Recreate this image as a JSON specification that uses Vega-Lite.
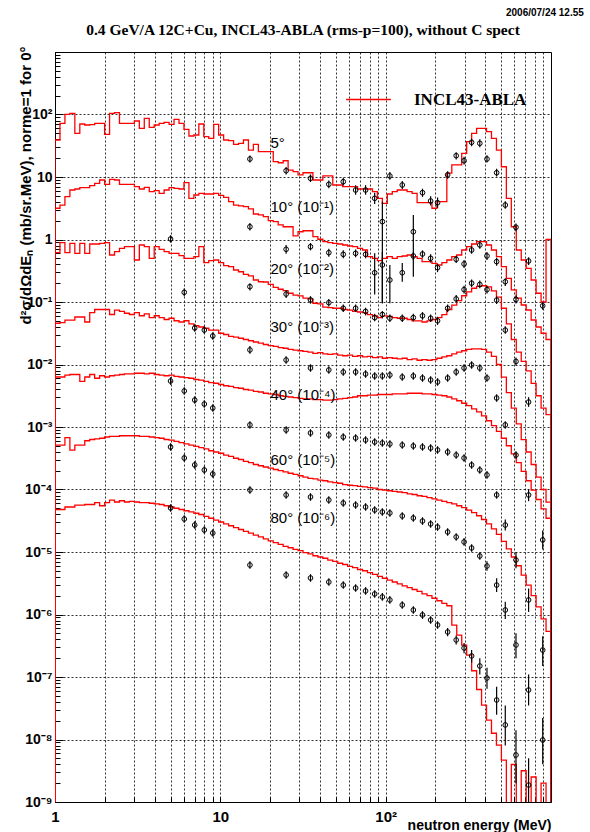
{
"$schema":"https://vega.github.io/schema/vega-lite/v6.json",
"width":496,"height":750,
"autosize":{"type":"none"},
"padding":{"left":55,"top":52,"right":39,"bottom":30},
"background":"white",
"config":{"view":{"stroke":"#000","strokeWidth":1},"font":"Liberation Sans","axis":{"domainColor":"#000","tickColor":"#000","labelColor":"#000","titleColor":"#000"}},
"title":{"text":"0.4 GeV/A 12C+Cu, INCL43-ABLA (rms-p=100), without C spect","font":"Liberation Serif","fontSize":15.5,"fontWeight":"bold","anchor":"middle","offset":-30,"color":"#000"},
"resolve":{"axis":{"y":"independent"}},
"datasets":{
"curves":[
{"i":0,"e":1,"a5":1e-12,"a10":1e-12,"a20":1e-12,"a30":1e-12,"a40":1e-12,"a60":1e-12,"a80":1e-12},
{"i":1,"e":1,"a5":39.1,"a10":3.16,"a20":0.615,"a30":0.0457,"a40":6.31e-3,"a60":5.13e-4,"a80":4.79e-5},
{"i":2,"e":1.0715,"a5":72.3,"a10":3.56,"a20":0.889,"a30":0.0468,"a40":6.31e-3,"a60":5.13e-4,"a80":4.79e-5},
{"i":3,"e":1.1482,"a5":100.7,"a10":4.84,"a20":0.615,"a30":0.0513,"a40":6.76e-3,"a60":6.76e-4,"a80":5.25e-5},
{"i":4,"e":1.2303,"a5":104.5,"a10":6.19,"a20":0.869,"a30":0.0513,"a40":6.92e-3,"a60":4.27e-4,"a80":5.25e-5},
{"i":5,"e":1.3183,"a5":50.0,"a10":6.43,"a20":0.601,"a30":0.0575,"a40":6.92e-3,"a60":5.13e-4,"a80":5.62e-5},
{"i":6,"e":1.4125,"a5":70.5,"a10":6.75,"a20":0.869,"a30":0.0575,"a40":5.37e-3,"a60":5.13e-4,"a80":5.62e-5},
{"i":7,"e":1.5136,"a5":67.9,"a10":6.75,"a20":0.601,"a30":0.0479,"a40":6.31e-3,"a60":6.03e-4,"a80":5.75e-5},
{"i":8,"e":1.6218,"a5":68.9,"a10":7.26,"a20":0.847,"a30":0.0676,"a40":6.92e-3,"a60":6.31e-4,"a80":5.75e-5},
{"i":9,"e":1.7378,"a5":72.3,"a10":7.93,"a20":0.847,"a30":0.0759,"a40":6.03e-3,"a60":6.46e-4,"a80":6.17e-5},
{"i":10,"e":1.8621,"a5":72.3,"a10":8.95,"a20":0.869,"a30":0.0759,"a40":6.61e-3,"a60":6.61e-4,"a80":5.5e-5},
{"i":11,"e":1.9953,"a5":48.2,"a10":7.64,"a20":0.889,"a30":0.0759,"a40":6.31e-3,"a60":6.92e-4,"a80":6.17e-5},
{"i":12,"e":2.138,"a5":104.5,"a10":9.18,"a20":0.565,"a30":0.0631,"a40":6.61e-3,"a60":7.08e-4,"a80":6.76e-5},
{"i":13,"e":2.2909,"a5":107.2,"a10":8.95,"a20":0.638,"a30":0.0741,"a40":6.76e-3,"a60":7.08e-4,"a80":6.31e-5},
{"i":14,"e":2.4547,"a5":72.3,"a10":7.64,"a20":0.723,"a30":0.0708,"a40":6.92e-3,"a60":7.24e-4,"a80":6.61e-5},
{"i":15,"e":2.6303,"a5":72.3,"a10":7.64,"a20":0.767,"a30":0.0661,"a40":7.08e-3,"a60":7.24e-4,"a80":6.31e-5},
{"i":16,"e":2.8184,"a5":72.3,"a10":7.64,"a20":0.767,"a30":0.0631,"a40":7.08e-3,"a60":7.24e-4,"a80":6.46e-5},
{"i":17,"e":3.02,"a5":78.7,"a10":7.0,"a20":0.47,"a30":0.0676,"a40":7.24e-3,"a60":7.24e-4,"a80":6.31e-5},
{"i":18,"e":3.2359,"a5":60.1,"a10":6.43,"a20":0.817,"a30":0.0603,"a40":7.24e-3,"a60":7.08e-4,"a80":6.17e-5},
{"i":19,"e":3.4674,"a5":86.9,"a10":6.84,"a20":0.767,"a30":0.0646,"a40":7.08e-3,"a60":7.08e-4,"a80":6.17e-5},
{"i":20,"e":3.7154,"a5":62.4,"a10":5.82,"a20":0.5,"a30":0.0562,"a40":7.24e-3,"a60":6.92e-4,"a80":6.03e-5},
{"i":21,"e":3.9811,"a5":67.9,"a10":6.04,"a20":0.767,"a30":0.0603,"a40":6.92e-3,"a60":6.76e-4,"a80":5.89e-5},
{"i":22,"e":4.2658,"a5":72.3,"a10":5.48,"a20":0.697,"a30":0.0562,"a40":6.76e-3,"a60":6.61e-4,"a80":5.75e-5},
{"i":23,"e":4.5709,"a5":75.0,"a10":6.19,"a20":0.638,"a30":0.0525,"a40":6.61e-3,"a60":6.31e-4,"a80":5.5e-5},
{"i":24,"e":4.8978,"a5":69.7,"a10":6.75,"a20":0.601,"a30":0.055,"a40":6.76e-3,"a60":6.17e-4,"a80":5.25e-5},
{"i":25,"e":5.2481,"a5":83.8,"a10":6.59,"a20":0.601,"a30":0.0501,"a40":6.46e-3,"a60":5.89e-4,"a80":5.01e-5},
{"i":26,"e":5.6234,"a5":72.3,"a10":6.43,"a20":0.551,"a30":0.0479,"a40":6.31e-3,"a60":5.62e-4,"a80":4.79e-5},
{"i":27,"e":6.0256,"a5":57.9,"a10":8.11,"a20":0.5,"a30":0.0501,"a40":6.17e-3,"a60":5.37e-4,"a80":4.57e-5},
{"i":28,"e":6.4565,"a5":45.3,"a10":4.56,"a20":0.5,"a30":0.0447,"a40":6.03e-3,"a60":5.13e-4,"a80":4.37e-5},
{"i":29,"e":6.9183,"a5":47.0,"a10":5.15,"a20":0.531,"a30":0.0417,"a40":5.75e-3,"a60":4.9e-4,"a80":4.17e-5},
{"i":30,"e":7.4131,"a5":70.5,"a10":5.48,"a20":0.767,"a30":0.0398,"a40":5.62e-3,"a60":4.68e-4,"a80":3.98e-5},
{"i":31,"e":7.9433,"a5":44.2,"a10":5.35,"a20":0.426,"a30":0.038,"a40":5.37e-3,"a60":4.47e-4,"a80":3.72e-5},
{"i":32,"e":8.5114,"a5":41.6,"a10":5.35,"a20":0.458,"a30":0.0355,"a40":5.13e-3,"a60":4.17e-4,"a80":3.47e-5},
{"i":33,"e":9.1201,"a5":69.7,"a10":5.48,"a20":0.47,"a30":0.0355,"a40":5.01e-3,"a60":3.98e-4,"a80":3.24e-5},
{"i":34,"e":9.7724,"a5":47.0,"a10":5.09,"a20":0.426,"a30":0.0316,"a40":4.79e-3,"a60":3.8e-4,"a80":3.02e-5},
{"i":35,"e":10.471,"a5":39.1,"a10":4.73,"a20":0.381,"a30":0.0302,"a40":4.57e-3,"a60":3.55e-4,"a80":2.82e-5},
{"i":36,"e":11.22,"a5":38.1,"a10":4.03,"a20":0.367,"a30":0.0282,"a40":4.47e-3,"a60":3.39e-4,"a80":2.63e-5},
{"i":37,"e":12.023,"a5":33.3,"a10":3.56,"a20":0.325,"a30":0.0275,"a40":4.27e-3,"a60":3.16e-4,"a80":2.45e-5},
{"i":38,"e":12.882,"a5":34.6,"a10":3.44,"a20":0.305,"a30":0.0263,"a40":4.17e-3,"a60":3.02e-4,"a80":2.29e-5},
{"i":39,"e":13.804,"a5":39.1,"a10":3.35,"a20":0.277,"a30":0.0251,"a40":3.98e-3,"a60":2.82e-4,"a80":2.14e-5},
{"i":40,"e":14.791,"a5":27.0,"a10":3.08,"a20":0.261,"a30":0.024,"a40":3.89e-3,"a60":2.69e-4,"a80":2.0e-5},
{"i":41,"e":15.849,"a5":33.3,"a10":2.56,"a20":0.225,"a30":0.0229,"a40":3.72e-3,"a60":2.51e-4,"a80":1.86e-5},
{"i":42,"e":16.982,"a5":25.4,"a10":2.47,"a20":0.211,"a30":0.0219,"a40":3.63e-3,"a60":2.4e-4,"a80":1.74e-5},
{"i":43,"e":18.197,"a5":25.4,"a10":2.32,"a20":0.209,"a30":0.0209,"a40":3.47e-3,"a60":2.29e-4,"a80":1.62e-5},
{"i":44,"e":19.498,"a5":25.4,"a10":2.0,"a20":0.192,"a30":0.02,"a40":3.39e-3,"a60":2.19e-4,"a80":1.51e-5},
{"i":45,"e":20.893,"a5":17.6,"a10":1.93,"a20":0.172,"a30":0.0195,"a40":3.31e-3,"a60":2.09e-4,"a80":1.41e-5},
{"i":46,"e":22.387,"a5":16.9,"a10":1.71,"a20":0.16,"a30":0.0186,"a40":3.16e-3,"a60":2.0e-4,"a80":1.32e-5},
{"i":47,"e":23.988,"a5":18.2,"a10":1.6,"a20":0.152,"a30":0.0182,"a40":3.09e-3,"a60":1.91e-4,"a80":1.23e-5},
{"i":48,"e":25.704,"a5":12.9,"a10":1.6,"a20":0.138,"a30":0.0174,"a40":3.02e-3,"a60":1.82e-4,"a80":1.17e-5},
{"i":49,"e":27.542,"a5":12.2,"a10":1.14,"a20":0.129,"a30":0.017,"a40":2.95e-3,"a60":1.74e-4,"a80":1.1e-5},
{"i":50,"e":29.512,"a5":10.8,"a10":1.33,"a20":0.125,"a30":0.0166,"a40":2.88e-3,"a60":1.66e-4,"a80":1.05e-5},
{"i":51,"e":31.623,"a5":11.7,"a10":1.38,"a20":0.115,"a30":0.0162,"a40":2.82e-3,"a60":1.58e-4,"a80":9.77e-6},
{"i":52,"e":33.884,"a5":11.7,"a10":1.38,"a20":0.112,"a30":0.0158,"a40":2.82e-3,"a60":1.51e-4,"a80":9.33e-6},
{"i":53,"e":36.308,"a5":8.95,"a10":1.11,"a20":0.0955,"a30":0.0151,"a40":2.75e-3,"a60":1.48e-4,"a80":8.71e-6},
{"i":54,"e":38.905,"a5":8.95,"a10":1.01,"a20":0.0933,"a30":0.0155,"a40":2.75e-3,"a60":1.41e-4,"a80":8.32e-6},
{"i":55,"e":41.687,"a5":10.4,"a10":0.923,"a20":0.083,"a30":0.0148,"a40":2.69e-3,"a60":1.38e-4,"a80":7.94e-6},
{"i":56,"e":44.668,"a5":10.4,"a10":0.889,"a20":0.0813,"a30":0.0145,"a40":2.69e-3,"a60":1.32e-4,"a80":7.41e-6},
{"i":57,"e":47.863,"a5":7.45,"a10":0.869,"a20":0.0794,"a30":0.0148,"a40":2.75e-3,"a60":1.29e-4,"a80":7.08e-6},
{"i":58,"e":51.286,"a5":7.45,"a10":0.847,"a20":0.0794,"a30":0.0141,"a40":2.82e-3,"a60":1.26e-4,"a80":6.61e-6},
{"i":59,"e":54.954,"a5":7.0,"a10":0.817,"a20":0.0759,"a30":0.0138,"a40":2.88e-3,"a60":1.2e-4,"a80":6.31e-6},
{"i":60,"e":58.884,"a5":7.0,"a10":0.787,"a20":0.0741,"a30":0.0141,"a40":2.95e-3,"a60":1.17e-4,"a80":5.89e-6},
{"i":61,"e":63.096,"a5":7.0,"a10":0.767,"a20":0.0708,"a30":0.0135,"a40":3.02e-3,"a60":1.15e-4,"a80":5.62e-6},
{"i":62,"e":67.608,"a5":6.43,"a10":0.723,"a20":0.0692,"a30":0.0138,"a40":3.16e-3,"a60":1.12e-4,"a80":5.25e-6},
{"i":63,"e":72.444,"a5":6.43,"a10":0.679,"a20":0.0676,"a30":0.0132,"a40":3.16e-3,"a60":1.1e-4,"a80":5.01e-6},
{"i":64,"e":77.625,"a5":6.43,"a10":0.531,"a20":0.063,"a30":0.0135,"a40":3.24e-3,"a60":1.07e-4,"a80":4.68e-6},
{"i":65,"e":83.176,"a5":5.82,"a10":0.5,"a20":0.06,"a30":0.0129,"a40":3.24e-3,"a60":1.05e-4,"a80":4.37e-6},
{"i":66,"e":89.125,"a5":4.56,"a10":0.458,"a20":0.0562,"a30":0.0132,"a40":3.31e-3,"a60":1.0e-4,"a80":4.07e-6},
{"i":67,"e":95.499,"a5":3.79,"a10":0.5,"a20":0.06,"a30":0.0126,"a40":3.31e-3,"a60":9.77e-5,"a80":3.8e-6},
{"i":68,"e":102.33,"a5":5.35,"a10":0.531,"a20":0.0589,"a30":0.0129,"a40":3.31e-3,"a60":9.55e-5,"a80":3.55e-6},
{"i":69,"e":109.65,"a5":5.82,"a10":0.5,"a20":0.0562,"a30":0.0126,"a40":3.39e-3,"a60":9.33e-5,"a80":3.31e-6},
{"i":70,"e":117.49,"a5":6.19,"a10":0.531,"a20":0.055,"a30":0.0123,"a40":3.39e-3,"a60":9.12e-5,"a80":3.09e-6},
{"i":71,"e":125.89,"a5":6.19,"a10":0.545,"a20":0.055,"a30":0.0126,"a40":3.39e-3,"a60":8.91e-5,"a80":2.88e-6},
{"i":72,"e":134.9,"a5":5.82,"a10":0.565,"a20":0.0525,"a30":0.012,"a40":3.47e-3,"a60":8.51e-5,"a80":2.69e-6},
{"i":73,"e":144.54,"a5":5.48,"a10":0.531,"a20":0.05,"a30":0.0123,"a40":3.47e-3,"a60":8.32e-5,"a80":2.51e-6},
{"i":74,"e":154.88,"a5":3.88,"a10":0.5,"a20":0.05,"a30":0.0117,"a40":3.47e-3,"a60":7.94e-5,"a80":2.34e-6},
{"i":75,"e":165.96,"a5":3.88,"a10":0.442,"a20":0.0479,"a30":0.012,"a40":3.39e-3,"a60":7.76e-5,"a80":2.14e-6},
{"i":76,"e":177.83,"a5":3.88,"a10":0.442,"a20":0.05,"a30":0.0117,"a40":3.39e-3,"a60":7.41e-5,"a80":2.0e-6},
{"i":77,"e":190.55,"a5":3.16,"a10":0.416,"a20":0.0525,"a30":0.012,"a40":3.31e-3,"a60":7.08e-5,"a80":1.82e-6},
{"i":78,"e":204.17,"a5":4.03,"a10":0.391,"a20":0.0562,"a30":0.0126,"a40":3.24e-3,"a60":6.76e-5,"a80":1.66e-6},
{"i":79,"e":218.78,"a5":4.03,"a10":0.426,"a20":0.063,"a30":0.0132,"a40":3.16e-3,"a60":6.46e-5,"a80":1.51e-6},
{"i":80,"e":234.42,"a5":11.5,"a10":0.47,"a20":0.0759,"a30":0.0138,"a40":3.02e-3,"a60":6.17e-5,"a80":1.38e-6},
{"i":81,"e":251.19,"a5":15.6,"a10":0.531,"a20":0.089,"a30":0.0148,"a40":2.82e-3,"a60":5.89e-5,"a80":6.76e-7},
{"i":82,"e":269.15,"a5":15.6,"a10":0.565,"a20":0.105,"a30":0.0158,"a40":2.63e-3,"a60":5.5e-5,"a80":4.68e-7},
{"i":83,"e":288.4,"a5":23.9,"a10":0.679,"a20":0.126,"a30":0.0166,"a40":2.4e-3,"a60":5.13e-5,"a80":3.24e-7},
{"i":84,"e":309.03,"a5":36.7,"a10":0.767,"a20":0.145,"a30":0.0174,"a40":2.19e-3,"a60":4.68e-5,"a80":2.24e-7},
{"i":85,"e":331.13,"a5":50.0,"a10":0.847,"a20":0.166,"a30":0.0178,"a40":1.95e-3,"a60":4.27e-5,"a80":1.26e-7},
{"i":86,"e":354.81,"a5":60.1,"a10":0.923,"a20":0.178,"a30":0.0178,"a40":1.74e-3,"a60":3.8e-5,"a80":6.31e-8},
{"i":87,"e":380.19,"a5":60.1,"a10":0.923,"a20":0.182,"a30":0.0174,"a40":1.51e-3,"a60":3.31e-5,"a80":3.55e-8},
{"i":88,"e":407.38,"a5":53.1,"a10":0.817,"a20":0.174,"a30":0.0158,"a40":1.26e-3,"a60":2.82e-5,"a80":2.04e-8},
{"i":89,"e":436.52,"a5":41.6,"a10":0.679,"a20":0.151,"a30":0.0135,"a40":1.05e-3,"a60":2.34e-5,"a80":1.26e-8},
{"i":90,"e":467.74,"a5":27.0,"a10":0.531,"a20":0.12,"a30":0.01,"a40":8.51e-4,"a60":1.91e-5,"a80":8.13e-9},
{"i":91,"e":501.19,"a5":14.6,"a10":0.367,"a20":0.0794,"a30":0.0063,"a40":6.61e-4,"a60":1.48e-5,"a80":4.68e-9},
{"i":92,"e":537.03,"a5":4.56,"a10":0.239,"a20":0.0447,"a30":0.00355,"a40":5.01e-4,"a60":1.12e-5,"a80":1e-12},
{"i":93,"e":575.44,"a5":1.6,"a10":0.156,"a20":0.0251,"a30":0.002,"a40":3.72e-4,"a60":8.32e-6,"a80":3.98e-9},
{"i":94,"e":616.6,"a5":0.679,"a10":0.115,"a20":0.0158,"a30":0.00112,"a40":2.69e-4,"a60":6.03e-6,"a80":1e-12},
{"i":95,"e":660.69,"a5":0.47,"a10":0.0895,"a20":0.0112,"a30":0.00063,"a40":1.95e-4,"a60":4.27e-6,"a80":3.16e-9},
{"i":96,"e":707.95,"a5":0.346,"a10":0.0745,"a20":0.0079,"a30":0.000398,"a40":1.38e-4,"a60":2.95e-6,"a80":1e-12},
{"i":97,"e":758.58,"a5":0.225,"a10":0.0515,"a20":0.005,"a30":0.000251,"a40":9.77e-5,"a60":2.0e-6,"a80":2.51e-9},
{"i":98,"e":812.83,"a5":0.138,"a10":0.0398,"a20":0.00316,"a30":0.000158,"a40":6.92e-5,"a60":1.32e-6,"a80":1e-12},
{"i":99,"e":870.96,"a5":0.1,"a10":0.0316,"a20":0.002,"a30":0.0001,"a40":4.9e-5,"a60":8.51e-7,"a80":2.0e-9},
{"i":100,"e":933.25,"a5":1.0,"a10":0.0251,"a20":0.00158,"a30":0.000063,"a40":3.47e-5,"a60":5.37e-7,"a80":1e-12},
{"i":101,"e":1000,"a5":1e-12,"a10":1e-12,"a20":1e-12,"a30":1e-12,"a40":1e-12,"a60":1e-12,"a80":1e-12}
],
"pts":[
{"a":"5","e":15.1,"v":19.4,"lo":17.0,"hi":22.0},
{"a":"5","e":25,"v":12.6,"lo":11.0,"hi":14.5},
{"a":"5","e":35.1,"v":9.53,"lo":8.3,"hi":11.0},
{"a":"5","e":45.3,"v":7.64,"lo":6.6,"hi":8.8},
{"a":"5","e":55.4,"v":8.41,"lo":7.3,"hi":9.7},
{"a":"5","e":65.8,"v":6.19,"lo":5.2,"hi":7.4},
{"a":"5","e":75.6,"v":6.19,"lo":5.2,"hi":7.4},
{"a":"5","e":85.8,"v":4.56,"lo":3.7,"hi":5.6},
{"a":"5","e":95.5,"v":1.93,"lo":0.0955,"hi":4.03},
{"a":"5","e":106,"v":10.4,"lo":9.0,"hi":12.0},
{"a":"5","e":126,"v":7.45,"lo":6.4,"hi":8.6},
{"a":"5","e":147,"v":1.33,"lo":0.254,"hi":2.47},
{"a":"5","e":167,"v":5.61,"lo":4.8,"hi":6.5},
{"a":"5","e":187,"v":4.13,"lo":3.5,"hi":4.9},
{"a":"5","e":206,"v":3.88,"lo":3.2,"hi":4.7},
{"a":"5","e":237,"v":10.8,"lo":9.4,"hi":12.4},
{"a":"5","e":267,"v":21.9,"lo":19.0,"hi":25.0},
{"a":"5","e":298,"v":18.2,"lo":15.8,"hi":21.0},
{"a":"5","e":331,"v":35.9,"lo":31.0,"hi":41.0},
{"a":"5","e":371,"v":34.6,"lo":30.0,"hi":40.0},
{"a":"5","e":410,"v":19.4,"lo":17.0,"hi":22.3},
{"a":"5","e":469,"v":11.7,"lo":10.2,"hi":13.5},
{"a":"5","e":529,"v":3.56,"lo":3.1,"hi":4.1},
{"a":"5","e":614,"v":1.57,"lo":1.36,"hi":1.8},
{"a":"5","e":732,"v":0.453,"lo":0.39,"hi":0.52},
{"a":"5","e":891,"v":0.087,"lo":0.075,"hi":0.1},
{"a":"10","e":5.0,"v":1.02,"lo":0.89,"hi":1.17},
{"a":"10","e":15.1,"v":1.6,"lo":1.39,"hi":1.84},
{"a":"10","e":25,"v":0.697,"lo":0.59,"hi":0.82},
{"a":"10","e":35.1,"v":0.767,"lo":0.67,"hi":0.88},
{"a":"10","e":45.3,"v":0.615,"lo":0.53,"hi":0.71},
{"a":"10","e":55.4,"v":0.579,"lo":0.5,"hi":0.67},
{"a":"10","e":65.8,"v":0.601,"lo":0.52,"hi":0.69},
{"a":"10","e":75.6,"v":0.579,"lo":0.5,"hi":0.67},
{"a":"10","e":85.8,"v":0.294,"lo":0.132,"hi":0.6},
{"a":"10","e":95.5,"v":0.391,"lo":0.0955,"hi":0.63},
{"a":"10","e":106,"v":0.225,"lo":0.0955,"hi":0.39},
{"a":"10","e":126,"v":0.294,"lo":0.21,"hi":0.42},
{"a":"10","e":147,"v":0.545,"lo":0.47,"hi":0.63},
{"a":"10","e":167,"v":0.586,"lo":0.51,"hi":0.67},
{"a":"10","e":187,"v":0.5,"lo":0.43,"hi":0.58},
{"a":"10","e":206,"v":0.354,"lo":0.3,"hi":0.41},
{"a":"10","e":267,"v":0.482,"lo":0.42,"hi":0.55},
{"a":"10","e":298,"v":0.406,"lo":0.35,"hi":0.47},
{"a":"10","e":331,"v":0.679,"lo":0.59,"hi":0.78},
{"a":"10","e":371,"v":0.817,"lo":0.71,"hi":0.94},
{"a":"10","e":410,"v":0.545,"lo":0.47,"hi":0.63},
{"a":"10","e":469,"v":0.442,"lo":0.38,"hi":0.51},
{"a":"10","e":529,"v":0.211,"lo":0.18,"hi":0.24},
{"a":"10","e":614,"v":0.11,"lo":0.095,"hi":0.127},
{"a":"20","e":6.05,"v":0.143,"lo":0.124,"hi":0.165},
{"a":"20","e":15.1,"v":0.176,"lo":0.153,"hi":0.2},
{"a":"20","e":25,"v":0.134,"lo":0.116,"hi":0.155},
{"a":"20","e":35.1,"v":0.108,"lo":0.094,"hi":0.124},
{"a":"20","e":45.3,"v":0.0975,"lo":0.085,"hi":0.112},
{"a":"20","e":55.4,"v":0.0794,"lo":0.069,"hi":0.091},
{"a":"20","e":65.8,"v":0.0794,"lo":0.069,"hi":0.091},
{"a":"20","e":75.6,"v":0.0708,"lo":0.061,"hi":0.081},
{"a":"20","e":85.8,"v":0.0562,"lo":0.049,"hi":0.065},
{"a":"20","e":95.5,"v":0.063,"lo":0.055,"hi":0.072},
{"a":"20","e":106,"v":0.055,"lo":0.048,"hi":0.063},
{"a":"20","e":126,"v":0.055,"lo":0.048,"hi":0.063},
{"a":"20","e":147,"v":0.0562,"lo":0.049,"hi":0.065},
{"a":"20","e":167,"v":0.06,"lo":0.052,"hi":0.069},
{"a":"20","e":187,"v":0.055,"lo":0.048,"hi":0.063},
{"a":"20","e":206,"v":0.05,"lo":0.043,"hi":0.058},
{"a":"20","e":237,"v":0.0794,"lo":0.069,"hi":0.091},
{"a":"20","e":267,"v":0.112,"lo":0.097,"hi":0.129},
{"a":"20","e":298,"v":0.158,"lo":0.137,"hi":0.182},
{"a":"20","e":331,"v":0.2,"lo":0.174,"hi":0.23},
{"a":"20","e":371,"v":0.191,"lo":0.166,"hi":0.22},
{"a":"20","e":410,"v":0.158,"lo":0.137,"hi":0.182},
{"a":"20","e":469,"v":0.107,"lo":0.093,"hi":0.123},
{"a":"20","e":529,"v":0.0355,"lo":0.031,"hi":0.041},
{"a":"20","e":614,"v":0.0112,"lo":0.0097,"hi":0.0129},
{"a":"20","e":732,"v":0.00251,"lo":0.0021,"hi":0.003},
{"a":"30","e":7,"v":0.0384,"lo":0.0334,"hi":0.0442},
{"a":"30","e":8,"v":0.0356,"lo":0.031,"hi":0.041},
{"a":"30","e":9,"v":0.0286,"lo":0.0249,"hi":0.0329},
{"a":"30","e":15.1,"v":0.0171,"lo":0.0149,"hi":0.0197},
{"a":"30","e":25,"v":0.0118,"lo":0.0103,"hi":0.0136},
{"a":"30","e":35.1,"v":0.00879,"lo":0.00765,"hi":0.0101},
{"a":"30","e":45.3,"v":0.00817,"lo":0.00711,"hi":0.0094},
{"a":"30","e":55.4,"v":0.00759,"lo":0.0066,"hi":0.00873},
{"a":"30","e":65.8,"v":0.00759,"lo":0.0066,"hi":0.00873},
{"a":"30","e":75.6,"v":0.00705,"lo":0.00613,"hi":0.00811},
{"a":"30","e":85.8,"v":0.00655,"lo":0.0057,"hi":0.00753},
{"a":"30","e":95.5,"v":0.00655,"lo":0.0057,"hi":0.00753},
{"a":"30","e":106,"v":0.00679,"lo":0.00591,"hi":0.00781},
{"a":"30","e":126,"v":0.00631,"lo":0.00549,"hi":0.00726},
{"a":"30","e":147,"v":0.00655,"lo":0.0057,"hi":0.00753},
{"a":"30","e":167,"v":0.00608,"lo":0.00529,"hi":0.00699},
{"a":"30","e":187,"v":0.00565,"lo":0.00492,"hi":0.0065},
{"a":"30","e":206,"v":0.00525,"lo":0.00457,"hi":0.00604},
{"a":"30","e":237,"v":0.00608,"lo":0.00529,"hi":0.00699},
{"a":"30","e":267,"v":0.00759,"lo":0.0066,"hi":0.00873},
{"a":"30","e":298,"v":0.00879,"lo":0.00765,"hi":0.0101},
{"a":"30","e":331,"v":0.00982,"lo":0.00854,"hi":0.0113},
{"a":"30","e":371,"v":0.00879,"lo":0.00765,"hi":0.0101},
{"a":"30","e":410,"v":0.00608,"lo":0.00529,"hi":0.00699},
{"a":"30","e":469,"v":0.00291,"lo":0.00253,"hi":0.00335},
{"a":"30","e":529,"v":0.00108,"lo":0.00094,"hi":0.00124},
{"a":"30","e":614,"v":0.000356,"lo":0.00031,"hi":0.00041},
{"a":"30","e":732,"v":0.0000817,"lo":0.000065,"hi":0.0001},
{"a":"30","e":891,"v":0.0000156,"lo":0.000011,"hi":0.000022},
{"a":"40","e":5,"v":5.44e-3,"lo":4.73e-3,"hi":6.26e-3},
{"a":"40","e":6.05,"v":3.77e-3,"lo":3.28e-3,"hi":4.34e-3},
{"a":"40","e":7,"v":2.7e-3,"lo":2.35e-3,"hi":3.1e-3},
{"a":"40","e":8,"v":2.33e-3,"lo":2.03e-3,"hi":2.68e-3},
{"a":"40","e":9,"v":2.01e-3,"lo":1.75e-3,"hi":2.31e-3},
{"a":"40","e":15.1,"v":1.08e-3,"lo":9.4e-4,"hi":1.24e-3},
{"a":"40","e":25,"v":8.95e-4,"lo":7.8e-4,"hi":1.03e-3},
{"a":"40","e":35.1,"v":8.02e-4,"lo":6.98e-4,"hi":9.22e-4},
{"a":"40","e":45.3,"v":7.45e-4,"lo":6.48e-4,"hi":8.57e-4},
{"a":"40","e":55.4,"v":6.92e-4,"lo":6.02e-4,"hi":7.96e-4},
{"a":"40","e":65.8,"v":6.67e-4,"lo":5.8e-4,"hi":7.67e-4},
{"a":"40","e":75.6,"v":6.19e-4,"lo":5.39e-4,"hi":7.12e-4},
{"a":"40","e":85.8,"v":5.75e-4,"lo":5.0e-4,"hi":6.61e-4},
{"a":"40","e":95.5,"v":5.55e-4,"lo":4.83e-4,"hi":6.38e-4},
{"a":"40","e":106,"v":5.35e-4,"lo":4.65e-4,"hi":6.15e-4},
{"a":"40","e":126,"v":5.15e-4,"lo":4.48e-4,"hi":5.92e-4},
{"a":"40","e":147,"v":4.97e-4,"lo":4.32e-4,"hi":5.72e-4},
{"a":"40","e":167,"v":4.79e-4,"lo":4.17e-4,"hi":5.51e-4},
{"a":"40","e":187,"v":4.61e-4,"lo":4.01e-4,"hi":5.3e-4},
{"a":"40","e":206,"v":4.29e-4,"lo":3.73e-4,"hi":4.93e-4},
{"a":"40","e":237,"v":3.98e-4,"lo":3.46e-4,"hi":4.58e-4},
{"a":"40","e":267,"v":3.56e-4,"lo":3.1e-4,"hi":4.09e-4},
{"a":"40","e":298,"v":3.19e-4,"lo":2.78e-4,"hi":3.67e-4},
{"a":"40","e":331,"v":2.47e-4,"lo":2.15e-4,"hi":2.84e-4},
{"a":"40","e":371,"v":2.05e-4,"lo":1.78e-4,"hi":2.36e-4},
{"a":"40","e":410,"v":1.71e-4,"lo":1.49e-4,"hi":1.97e-4},
{"a":"40","e":469,"v":8.17e-5,"lo":7.1e-5,"hi":9.4e-5},
{"a":"40","e":529,"v":2.7e-5,"lo":2.2e-5,"hi":3.3e-5},
{"a":"40","e":614,"v":7.45e-6,"lo":5.5e-6,"hi":1.0e-5},
{"a":"40","e":732,"v":1.71e-6,"lo":1.1e-6,"hi":2.6e-6},
{"a":"40","e":891,"v":2.7e-7,"lo":1.5e-7,"hi":4.5e-7},
{"a":"60","e":5,"v":4.79e-4,"lo":4.17e-4,"hi":5.51e-4},
{"a":"60","e":6.05,"v":3.19e-4,"lo":2.78e-4,"hi":3.67e-4},
{"a":"60","e":7,"v":2.47e-4,"lo":2.15e-4,"hi":2.84e-4},
{"a":"60","e":8,"v":2.05e-4,"lo":1.78e-4,"hi":2.36e-4},
{"a":"60","e":9,"v":1.77e-4,"lo":1.54e-4,"hi":2.04e-4},
{"a":"60","e":15.1,"v":9.82e-5,"lo":8.54e-5,"hi":1.13e-4},
{"a":"60","e":25,"v":8.17e-5,"lo":7.1e-5,"hi":9.4e-5},
{"a":"60","e":35.1,"v":7.59e-5,"lo":6.6e-5,"hi":8.73e-5},
{"a":"60","e":45.3,"v":6.79e-5,"lo":5.91e-5,"hi":7.81e-5},
{"a":"60","e":55.4,"v":6.08e-5,"lo":5.29e-5,"hi":6.99e-5},
{"a":"60","e":65.8,"v":5.65e-5,"lo":4.92e-5,"hi":6.5e-5},
{"a":"60","e":75.6,"v":5.25e-5,"lo":4.57e-5,"hi":6.04e-5},
{"a":"60","e":85.8,"v":4.7e-5,"lo":4.09e-5,"hi":5.41e-5},
{"a":"60","e":95.5,"v":4.37e-5,"lo":3.8e-5,"hi":5.03e-5},
{"a":"60","e":106,"v":4.21e-5,"lo":3.66e-5,"hi":4.84e-5},
{"a":"60","e":126,"v":3.77e-5,"lo":3.28e-5,"hi":4.34e-5},
{"a":"60","e":147,"v":3.5e-5,"lo":3.05e-5,"hi":4.03e-5},
{"a":"60","e":167,"v":3.13e-5,"lo":2.72e-5,"hi":3.6e-5},
{"a":"60","e":187,"v":2.81e-5,"lo":2.44e-5,"hi":3.23e-5},
{"a":"60","e":206,"v":2.51e-5,"lo":2.18e-5,"hi":2.89e-5},
{"a":"60","e":237,"v":2.09e-5,"lo":1.82e-5,"hi":2.4e-5},
{"a":"60","e":267,"v":1.74e-5,"lo":1.51e-5,"hi":2.0e-5},
{"a":"60","e":298,"v":1.45e-5,"lo":1.26e-5,"hi":1.67e-5},
{"a":"60","e":331,"v":1.16e-5,"lo":1.01e-5,"hi":1.33e-5},
{"a":"60","e":371,"v":8.63e-6,"lo":7.5e-6,"hi":9.9e-6},
{"a":"60","e":410,"v":5.97e-6,"lo":5.0e-6,"hi":7.1e-6},
{"a":"60","e":469,"v":2.96e-6,"lo":2.3e-6,"hi":3.8e-6},
{"a":"60","e":529,"v":1.18e-6,"lo":8.5e-7,"hi":1.6e-6},
{"a":"60","e":614,"v":3.25e-7,"lo":2.0e-7,"hi":5.0e-7},
{"a":"60","e":732,"v":6.19e-8,"lo":3.5e-8,"hi":1.1e-7},
{"a":"60","e":891,"v":9.82e-9,"lo":4.0e-9,"hi":2.2e-8},
{"a":"80","e":5,"v":5.06e-5,"lo":4.4e-5,"hi":5.82e-5},
{"a":"80","e":6.05,"v":3.37e-5,"lo":2.93e-5,"hi":3.88e-5},
{"a":"80","e":7,"v":2.7e-5,"lo":2.35e-5,"hi":3.1e-5},
{"a":"80","e":8,"v":2.25e-5,"lo":1.96e-5,"hi":2.59e-5},
{"a":"80","e":9,"v":2.01e-5,"lo":1.75e-5,"hi":2.31e-5},
{"a":"80","e":15.1,"v":6.19e-6,"lo":5.39e-6,"hi":7.12e-6},
{"a":"80","e":25,"v":4.29e-6,"lo":3.73e-6,"hi":4.93e-6},
{"a":"80","e":35.1,"v":3.84e-6,"lo":3.34e-6,"hi":4.42e-6},
{"a":"80","e":45.3,"v":3.31e-6,"lo":2.88e-6,"hi":3.81e-6},
{"a":"80","e":55.4,"v":2.96e-6,"lo":2.58e-6,"hi":3.4e-6},
{"a":"80","e":65.8,"v":2.65e-6,"lo":2.31e-6,"hi":3.05e-6},
{"a":"80","e":75.6,"v":2.38e-6,"lo":2.07e-6,"hi":2.74e-6},
{"a":"80","e":85.8,"v":2.13e-6,"lo":1.85e-6,"hi":2.45e-6},
{"a":"80","e":95.5,"v":1.91e-6,"lo":1.66e-6,"hi":2.2e-6},
{"a":"80","e":106,"v":1.71e-6,"lo":1.49e-6,"hi":1.97e-6},
{"a":"80","e":126,"v":1.42e-6,"lo":1.24e-6,"hi":1.63e-6},
{"a":"80","e":147,"v":1.18e-6,"lo":1.03e-6,"hi":1.36e-6},
{"a":"80","e":167,"v":9.82e-7,"lo":8.5e-7,"hi":1.13e-6},
{"a":"80","e":187,"v":8.17e-7,"lo":7.1e-7,"hi":9.4e-7},
{"a":"80","e":206,"v":6.79e-7,"lo":5.9e-7,"hi":7.8e-7},
{"a":"80","e":237,"v":5.25e-7,"lo":4.5e-7,"hi":6.1e-7},
{"a":"80","e":267,"v":3.91e-7,"lo":3.3e-7,"hi":4.6e-7},
{"a":"80","e":298,"v":2.91e-7,"lo":2.4e-7,"hi":3.5e-7},
{"a":"80","e":331,"v":2.17e-7,"lo":1.7e-7,"hi":2.7e-7},
{"a":"80","e":371,"v":1.5e-7,"lo":1.1e-7,"hi":2.0e-7},
{"a":"80","e":410,"v":9.64e-8,"lo":6.5e-8,"hi":1.4e-7},
{"a":"80","e":469,"v":4.29e-8,"lo":2.5e-8,"hi":7.0e-8},
{"a":"80","e":529,"v":1.71e-8,"lo":8.0e-9,"hi":3.5e-8},
{"a":"80","e":614,"v":5.65e-9,"lo":2.0e-9,"hi":1.4e-8},
{"a":"80","e":732,"v":1.87e-9,"lo":1.0e-9,"hi":5.0e-9}
],
"labels":[
{"e":20.1,"v":34.6,"t":"5°"},
{"e":20.1,"v":3.35,"t":"10° (10⁻¹)"},
{"e":20.1,"v":0.337,"t":"20° (10⁻²)"},
{"e":20.1,"v":0.0398,"t":"30° (10⁻³)"},
{"e":20.1,"v":0.00325,"t":"40° (10⁻⁴)"},
{"e":20.1,"v":0.000296,"t":"60° (10⁻⁵)"},
{"e":20.1,"v":0.000035,"t":"80° (10⁻⁶)"}
]
},
"encoding":{
"x":{"field":"e","type":"quantitative","scale":{"type":"log","domain":[1,1000]},
 "axis":{"values":[1,2,3,4,5,6,7,8,9,10,20,30,40,50,60,70,80,90,100,200,300,400,500,600,700,800,900],
 "labelExpr":"datum.value == 1 ? '1' : datum.value == 10 ? '10' : datum.value == 100 ? '10²' : ''",
 "labelFont":"Liberation Sans","labelFontWeight":"bold","labelFontSize":15,"labelPadding":12,"labelFlush":false,"labelOverlap":false,
 "tickSize":-5,"grid":true,"gridColor":"#000","gridDash":[2,2],"gridOpacity":0.8,"gridWidth":1,
 "title":"neutron energy (MeV)","titleFont":"Liberation Sans","titleFontWeight":"bold","titleFontSize":14,"titleAnchor":"end","titleAlign":"right","titleBaseline":"middle","titleX":496,"titleY":23}},
"y":{"field":"v","type":"quantitative","scale":{"type":"log","domain":[1e-9,1000]},"axis":null}
},
"layer":[
{"data":{"name":"curves"},
 "transform":[{"fold":["a5","a10","a20","a30","a40","a60","a80"],"as":["ang","v"]}],
 "mark":{"type":"line","interpolate":"step-after","clip":true,"strokeWidth":1.3},
 "encoding":{
  "y":{"field":"v","type":"quantitative","scale":{"type":"log","domain":[1e-9,1000]},
   "axis":{"orient":"left","values":[1e-9,1e-8,1e-7,1e-6,1e-5,1e-4,1e-3,0.01,0.1,1,10,100,1000],
   "labelExpr":"datum.value > 500 ? '' : datum.value > 50 ? '10²' : datum.value > 5 ? '10' : datum.value > 0.5 ? '1' : datum.value > 0.05 ? '10⁻¹' : datum.value > 0.005 ? '10⁻²' : datum.value > 0.0005 ? '10⁻³' : datum.value > 0.00005 ? '10⁻⁴' : datum.value > 0.000005 ? '10⁻⁵' : datum.value > 0.0000005 ? '10⁻⁶' : datum.value > 0.00000005 ? '10⁻⁷' : datum.value > 0.000000005 ? '10⁻⁸' : '10⁻⁹'",
   "labelFont":"Liberation Sans","labelFontWeight":"bold","labelFontSize":14,"labelPadding":11,"labelOverlap":false,"labelFlush":false,"labelBaseline":"middle",
   "tickSize":-8,"grid":true,"gridColor":"#000","gridDash":[2,2],"gridWidth":1,"gridOpacity":0.8,
   "title":"d²σ/dΩdEₙ  (mb/sr.MeV), norme=1 for 0°","titleFont":"Liberation Sans","titleFontWeight":"bold","titleFontSize":15,"titleAngle":-90,"titleAlign":"right","titleBaseline":"middle","titleX":-30,"titleY":-6}},
  "detail":{"field":"ang"},"order":{"field":"i","type":"quantitative"},
  "color":{"datum":"INCL43-ABLA","type":"nominal","scale":{"range":["#ff0000"]},
   "legend":{"orient":"none","legendX":290,"legendY":24,"title":null,"padding":0,"symbolType":"stroke","symbolSize":2000,"symbolStrokeWidth":1.3,"labelFont":"Liberation Serif","labelFontSize":17,"labelFontWeight":"bold","labelColor":"#000","labelOffset":22}}}},
{"data":{"name":"pts"},
 "mark":{"type":"rule","stroke":"#000","strokeWidth":1.2,"clip":true},
 "encoding":{"y":{"field":"lo","type":"quantitative","scale":{"type":"log","domain":[1e-9,1000]},
   "axis":{"orient":"left","values":[2e-9,3e-9,4e-9,5e-9,6e-9,7e-9,8e-9,9e-9,2e-8,3e-8,4e-8,5e-8,6e-8,7e-8,8e-8,9e-8,2e-7,3e-7,4e-7,5e-7,6e-7,7e-7,8e-7,9e-7,2e-6,3e-6,4e-6,5e-6,6e-6,7e-6,8e-6,9e-6,2e-5,3e-5,4e-5,5e-5,6e-5,7e-5,8e-5,9e-5,2e-4,3e-4,4e-4,5e-4,6e-4,7e-4,8e-4,9e-4,2e-3,3e-3,4e-3,5e-3,6e-3,7e-3,8e-3,9e-3,0.02,0.03,0.04,0.05,0.06,0.07,0.08,0.09,0.2,0.3,0.4,0.5,0.6,0.7,0.8,0.9,2,3,4,5,6,7,8,9,20,30,40,50,60,70,80,90,200,300,400,500,600,700,800,900],
   "labels":false,"grid":false,"domain":false,"ticks":true,"tickSize":-5,"title":null}},
  "y2":{"field":"hi"}}},
{"data":{"name":"pts"},
 "mark":{"type":"point","shape":"circle","filled":false,"stroke":"#000","strokeWidth":1,"size":22,"opacity":1,"clip":true}},
{"data":{"name":"labels"},
 "mark":{"type":"text","align":"left","baseline":"middle","font":"Liberation Sans","fontSize":15,"color":"#000"},
 "encoding":{"text":{"field":"t"}}},
{"data":{"values":[{"e":534,"v":4200,"t":"2006/07/24   12.55"}]},
 "mark":{"type":"text","align":"left","baseline":"middle","font":"Liberation Sans","fontSize":10,"fontWeight":"bold","color":"#000"},
 "encoding":{"text":{"field":"t"}}}
]
}
